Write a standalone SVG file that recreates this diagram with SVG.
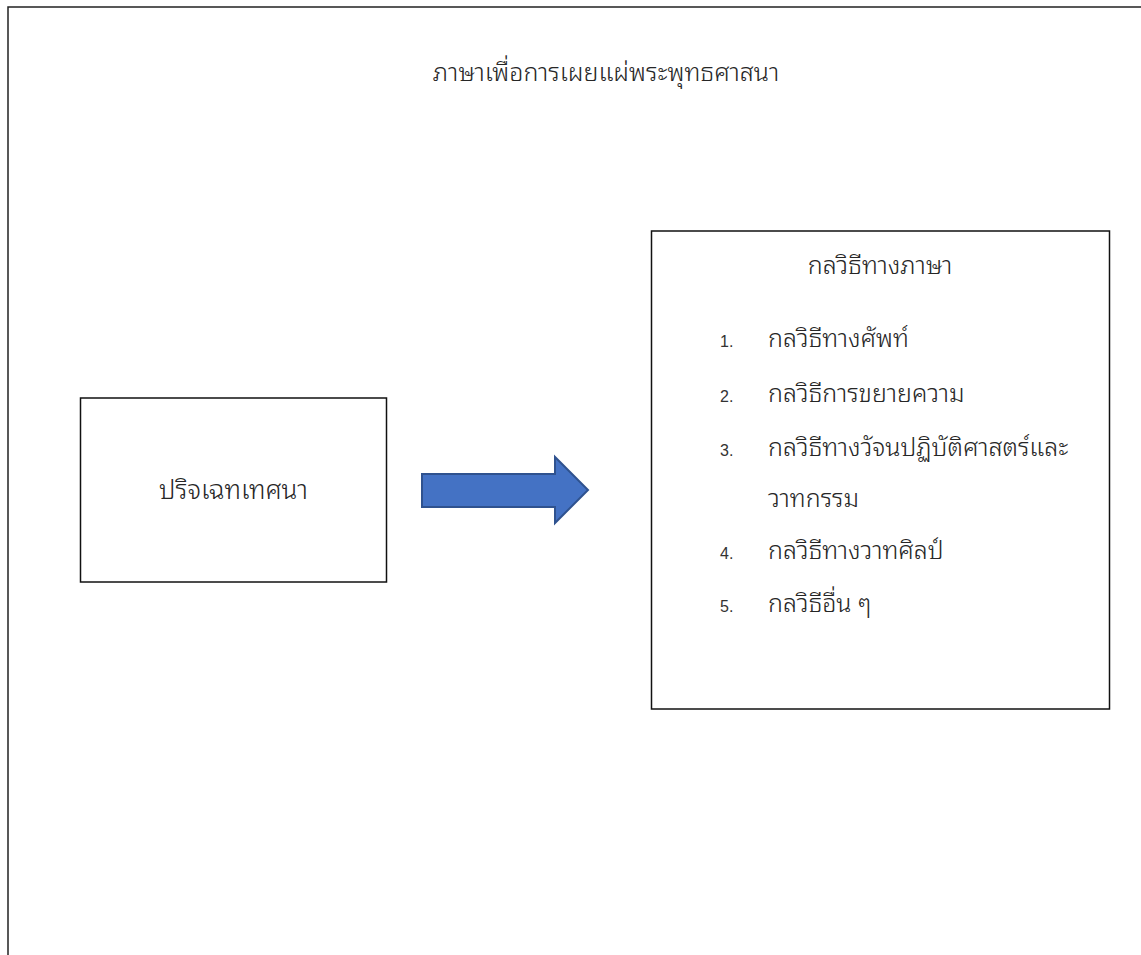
<svg xmlns="http://www.w3.org/2000/svg" width="1141" height="955" viewBox="0 0 1141 955">
<style>
.t{font-family:"Noto Sans Thai Looped","Noto Sans Thai","Noto Sans","DejaVu Sans",sans-serif;fill:#262626;font-weight:300;}
.box{fill:#fff;stroke:#111;stroke-width:1.5;}
.num{font-family:"Liberation Sans",Arial,sans-serif;font-size:16px;fill:#333;}
</style>
<rect width="1141" height="955" fill="#fff"/>
<g id="frame">
<path d="M8 955 V7 H1141" fill="none" stroke="#222" stroke-width="1.5"/>
</g>
<g id="title">
<text class="t" x="606" y="81" font-size="25" text-anchor="middle">ภาษาเพื่อการเผยแผ่พระพุทธศาสนา</text>
</g>
<g id="left-box">
<rect class="box" x="80.5" y="398" width="306" height="184"/>
<text class="t" x="233.5" y="499" font-size="26" text-anchor="middle">ปริจเฉทเทศนา</text>
</g>
<g id="right-box">
<rect class="box" x="651.5" y="231" width="458" height="478"/>
<text class="t" x="880" y="274" font-size="25" text-anchor="middle">กลวิธีทางภาษา</text>
<text class="num" x="720" y="347">1.</text>
<text class="t" x="768" y="347" font-size="25">กลวิธีทางศัพท์</text>
<text class="num" x="720" y="402">2.</text>
<text class="t" x="768" y="402" font-size="25">กลวิธีการขยายความ</text>
<text class="num" x="720" y="456">3.</text>
<text class="t" x="768" y="456" font-size="25">กลวิธีทางวัจนปฏิบัติศาสตร์และ</text>
<text class="t" x="768" y="507" font-size="25">วาทกรรม</text>
<text class="num" x="720" y="559">4.</text>
<text class="t" x="768" y="559" font-size="25">กลวิธีทางวาทศิลป์</text>
<text class="num" x="720" y="612">5.</text>
<text class="t" x="768" y="612" font-size="25">กลวิธีอื่น ๆ</text>
</g>
<g id="connectors">
<path d="M422 474 H555 V457 L588 490 L555 523 V507 H422 Z" fill="#4472C4" stroke="#2F528F" stroke-width="2" stroke-linejoin="miter"/>
</g>
</svg>
